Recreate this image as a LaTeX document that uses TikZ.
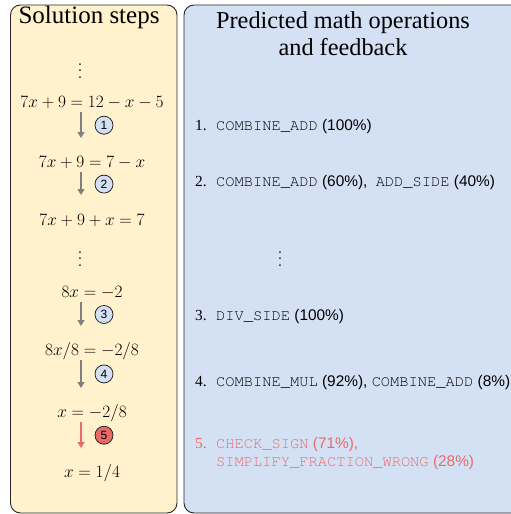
\documentclass[tikz,border=0pt]{standalone}
\usepackage[no-math]{fontspec}
\usetikzlibrary{arrows.meta}
\newfontfamily\serifttl{Liberation Serif}
\newfontfamily\sansop{Liberation Sans}
\newfontfamily\monoop[Extension=.otf]{texgyrecursor-regular}
\definecolor{stepfill}{HTML}{FFF2CC}
\definecolor{opfill}{HTML}{D4E1F5}
\definecolor{errred}{HTML}{EA6B66}
\definecolor{flowgray}{HTML}{808080}
\newcommand{\op}[1]{{\monoop #1}}
\newcommand{\opno}[1]{\makebox[21pt][l]{\serifttl #1}}
\begin{document}
\begin{tikzpicture}[x=1pt, y=-1pt,
  panel/.style={draw=black!85, rounded corners=10pt, line width=0.9pt},
  title/.style={font=\serifttl\fontsize{25}{27}\selectfont, align=center, inner sep=0pt},
  eq/.style={font=\fontsize{16}{19}\selectfont, inner sep=0pt},
  dots/.style={inner sep=0pt},
  flow/.style={-{Triangle[width=7pt,length=6pt]}, line width=1.3pt, flowgray, shorten <=9pt, shorten >=25pt},
  stepnum/.style={circle, draw=black!85, line width=0.8pt, fill=opfill, text=black, minimum size=18pt, inner sep=0pt, font=\sansop\fontsize{12}{14}\selectfont},
  oprow/.style={anchor=west, inner sep=0pt, align=left, font=\sansop\fontsize{15.4}{18}\selectfont}]
\useasboundingbox (0,0) rectangle (511,514);
\clip (0,0) rectangle (511,514);
% panels
\draw[panel, fill=stepfill] (10.5,5) rectangle (177,513);
\draw[panel, fill=opfill] (184,5) rectangle (522,513);
\node[title] (lt) at (89,17) {Solution steps};
\node[title, font=\serifttl\fontsize{24.3}{27}\selectfont] (rt) at (343,34) {Predicted math operations\\and feedback};
% solution steps
\node[dots] (d1) at (80,66) {\scalebox{1.6}{$\vdots$}};
\node[eq] (e1) at (92,103) {$7x+9=12-x-5$};
\node[eq] (e2) at (92,163) {$7x+9=7-x$};
\node[eq] (e3) at (92,220) {$7x+9+x=7$};
\node[dots] (d2) at (80,254) {\scalebox{1.6}{$\vdots$}};
\node[eq] (e4) at (92,293) {$8x=-2$};
\node[eq] (e5) at (92,351) {$8x/8=-2/8$};
\node[eq] (e6) at (92,413) {$x=-2/8$};
\node[eq] (e7) at (92,473) {$x=1/4$};
\draw[flow] ([xshift=-11pt]e1.center) -- ([xshift=-11pt]e2.center) node[stepnum, pos=0.37, xshift=23pt] (n1) {1};
\draw[flow] ([xshift=-11pt]e2.center) -- ([xshift=-11pt]e3.center) node[stepnum, pos=0.37, xshift=23pt] (n2) {2};
\draw[flow] ([xshift=-11pt]e4.center) -- ([xshift=-11pt]e5.center) node[stepnum, pos=0.37, xshift=23pt] (n3) {3};
\draw[flow] ([xshift=-11pt]e5.center) -- ([xshift=-11pt]e6.center) node[stepnum, pos=0.37, xshift=23pt] (n4) {4};
\draw[flow, errred] ([xshift=-11pt]e6.center) -- ([xshift=-11pt]e7.center) node[stepnum, fill=errred, pos=0.37, xshift=23pt] (n5) {5};
% predicted operations
\node[oprow] (o1) at (195,127) {\opno{1.}\op{COMBINE\_ADD} (100\%)};
\node[oprow] (o2) at (195,183) {\opno{2.}\op{COMBINE\_ADD} (60\%),\hspace{4pt} \op{ADD\_SIDE} (40\%)};
\node[dots] (d3) at (280,254) {\scalebox{1.6}{$\vdots$}};
\node[oprow] (o3) at (195,317) {\opno{3.}\op{DIV\_SIDE} (100\%)};
\node[oprow] (o4) at (195,383) {\opno{4.}\op{COMBINE\_MUL} (92\%), \op{COMBINE\_ADD} (8\%)};
\node[oprow, anchor=north west, text=errred] (o5) at (195,437) {\opno{5.}\op{CHECK\_SIGN} (71\%),\\\hspace*{21pt}\op{SIMPLIFY\_FRACTION\_WRONG} (28\%)};
\end{tikzpicture}
\end{document}
